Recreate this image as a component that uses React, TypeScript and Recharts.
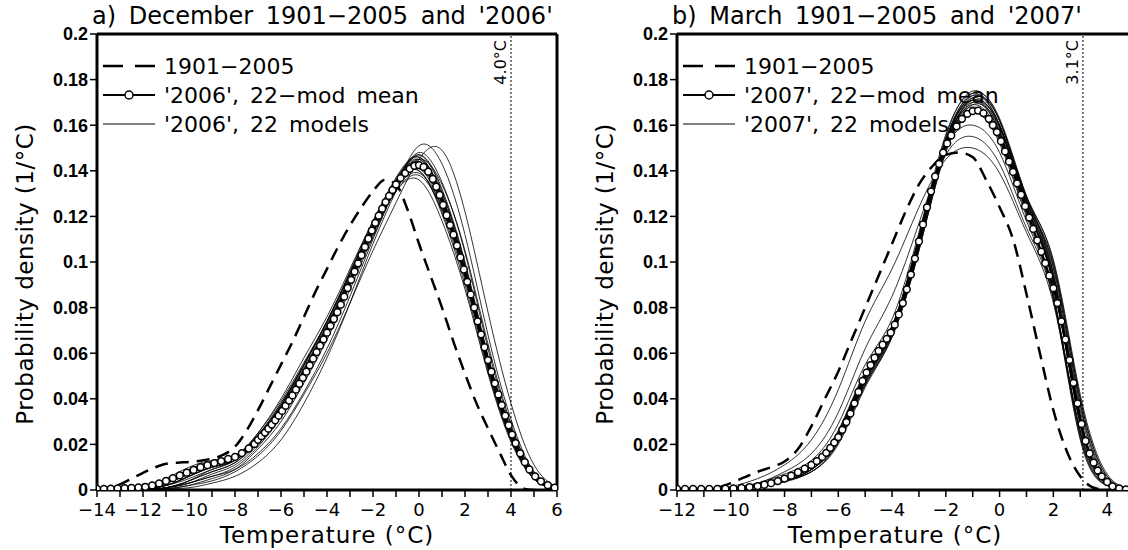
import React from "react";
import { LineChart, Line, XAxis, YAxis, ReferenceLine } from "recharts";

// all densities are in 1e-3 per °C

// a) December
const decGrid = [-14, -13, -12, -11, -10, -9, -8, -7, -6, -5, -4, -3, -2, -1, 0, 1, 2, 3, 4, 5, 6];
const decModels = [
  [0, 0, 0.5, 3, 8, 12, 15, 24, 38, 55, 73, 95, 117, 136, 145, 128, 96, 56, 24, 6, 0.5],
  [0, 0, 1, 5, 10, 13, 15, 23, 35, 51, 69, 90, 112, 132, 141, 126, 97, 58, 27, 8, 1],
  [0, 0, 0, 1, 4, 8, 12, 22, 37, 55, 74, 96, 118, 137, 146, 129, 96, 55, 23, 5, 0.5],
  [0, 0, 0.5, 2, 6, 10, 14, 25, 40, 58, 76, 97, 118, 135, 140, 122, 92, 53, 22, 5, 0.5],
  [0, 0, 0, 1, 3, 6, 10, 19, 32, 49, 68, 90, 113, 134, 148, 135, 104, 62, 28, 7, 0.5],
  [0, 0, 0, 0.5, 2, 5, 9, 18, 30, 47, 66, 88, 111, 133, 151, 143, 112, 68, 31, 8, 1],
  [0, 0, 0, 0.5, 2, 4, 8, 15, 26, 42, 60, 82, 105, 126, 145, 149, 122, 78, 38, 11, 1],
  [0, 0, 1, 4, 9, 12, 14, 22, 35, 52, 70, 91, 113, 131, 138, 123, 94, 55, 24, 6, 0.5],
  [0, 0, 0.5, 3, 7, 11, 14, 23, 36, 53, 72, 93, 115, 135, 143, 126, 94, 54, 23, 5, 0.5],
  [0, 0, 0.5, 2, 6, 10, 13, 21, 33, 50, 69, 91, 114, 134, 144, 128, 97, 57, 25, 6, 0.5],
  [0, 0, 1, 4, 9, 12.5, 15, 25, 39, 56, 74, 95, 116, 134, 141, 124, 93, 54, 23, 5, 0.5],
  [0, 0, 0, 1, 3, 6, 9, 16, 27, 43, 62, 85, 110, 133, 147, 132, 100, 59, 26, 6, 0.5],
  [0, 0, 0.5, 2, 5, 9, 13, 23, 37, 55, 74, 95, 116, 134, 140, 121, 90, 52, 22, 5, 0.5],
  [0, 0, 1, 3, 7, 11, 14, 24, 37, 54, 72, 93, 114, 132, 139, 124, 95, 56, 25, 6, 0.5],
  [0, 0, 0, 1, 4, 8, 12, 21, 34, 52, 71, 92, 114, 134, 145, 130, 99, 58, 26, 6, 0.5],
  [0, 0, 0.5, 2, 6, 10, 13, 22, 35, 52, 71, 93, 116, 136, 146, 129, 96, 55, 23, 5, 0.5],
  [0, 0, 0, 1, 3, 7, 11, 20, 33, 50, 69, 91, 114, 135, 147, 131, 99, 57, 24, 5, 0.5],
  [0, 0, 0.5, 3, 8, 12, 15, 24, 37, 53, 71, 92, 113, 131, 136, 118, 88, 51, 21, 5, 0.5],
  [0, 0, 0, 0.5, 1, 3, 6, 12, 22, 38, 58, 82, 108, 131, 145, 134, 105, 64, 29, 7, 0.5],
  [0, 0, 0.5, 2, 6, 10, 14, 24, 38, 55, 74, 95, 117, 136, 144, 127, 95, 55, 23, 5, 0.5],
  [0, 0, 1, 3, 7, 11, 14, 23, 36, 53, 72, 94, 116, 135, 143, 125, 94, 55, 24, 6, 0.5],
  [0, 0, 0, 1, 4, 9, 13, 22, 35, 52, 70, 91, 113, 132, 142, 128, 98, 58, 26, 6, 0.5],
];
const decObs: [number, number][] = [
  [-14, 0], [-13.5, 1], [-13, 2.5], [-12.5, 5], [-12, 7.5], [-11.5, 9.8], [-11, 11.5], [-10.5, 12],
  [-10, 12.3], [-9.5, 12.8], [-9, 13.8], [-8.5, 15.5], [-8, 19], [-7.5, 26], [-7, 35], [-6.5, 45],
  [-6, 55], [-5.5, 65], [-5, 76], [-4.5, 87], [-4, 97], [-3.5, 107], [-3, 116], [-2.5, 124],
  [-2, 131], [-1.5, 136], [-1, 134], [-0.5, 123], [0, 108], [0.5, 94], [1, 80], [1.5, 65],
  [2, 51], [2.5, 38], [3, 27], [3.5, 16.5], [4, 6.5], [4.3, 2.5], [4.6, 0.5], [5, 0], [6, 0],
];
const decMean: [number, number][] = [
  [-14, 0.5], [-13.7, 0.5], [-13.4, 0.6], [-13.1, 0.7], [-12.8, 0.8], [-12.5, 0.9], [-12.2, 1.1],
  [-11.9, 1.4], [-11.6, 2], [-11.3, 2.9], [-11, 4], [-10.7, 5.2], [-10.4, 6.4], [-10.1, 7.6],
  [-9.8, 8.8], [-9.5, 10], [-9.2, 10.9], [-8.9, 11.8], [-8.6, 12.7], [-8.3, 13.6], [-8, 14.5],
  [-7.7, 16.2], [-7.4, 18.2], [-7.15, 20.2], [-7, 22], [-6.85, 23.6], [-6.7, 25.2], [-6.55, 26.9],
  [-6.4, 28.7], [-6.25, 30.6], [-6.1, 32.6], [-5.95, 34.7], [-5.8, 36.9], [-5.65, 39.2], [-5.5, 41.5],
  [-5.35, 44], [-5.2, 46.6], [-5.05, 49.2], [-4.9, 51.9], [-4.75, 54.7], [-4.6, 57.6], [-4.45, 60.5],
  [-4.3, 63.3], [-4.15, 66.1], [-4, 69], [-3.85, 72], [-3.7, 75], [-3.55, 78], [-3.4, 81.3],
  [-3.25, 84.8], [-3.1, 88.6], [-2.95, 92.2], [-2.8, 95.8], [-2.65, 99.4], [-2.5, 103], [-2.35, 106.6],
  [-2.2, 110.2], [-2.05, 113.8], [-1.9, 117.2], [-1.75, 120.3], [-1.6, 123.4], [-1.45, 126.3],
  [-1.3, 129], [-1.15, 131.6], [-1, 134], [-0.8, 136.8], [-0.6, 139], [-0.4, 140.9], [-0.2, 142.2],
  [0, 142.5], [0.2, 141.7], [0.4, 139.6], [0.6, 136.4], [0.75, 133], [0.9, 129.4], [1.05, 125],
  [1.2, 120.5], [1.35, 116.2], [1.5, 112], [1.65, 107.2], [1.8, 102], [1.95, 96.7], [2.1, 91.3],
  [2.25, 85.8], [2.4, 80], [2.55, 74], [2.7, 68.3], [2.85, 62.6], [3, 57], [3.15, 51.9], [3.3, 46.8],
  [3.45, 41.9], [3.6, 37.2], [3.75, 32.6], [3.9, 28.4], [4.05, 24.3], [4.2, 20.5], [4.4, 16.1],
  [4.6, 12.2], [4.8, 9], [5.05, 6], [5.3, 3.8], [5.6, 2.1], [5.9, 1],
];

// b) March
const marGrid = [-12, -11, -10, -9, -8, -7, -6, -5, -4, -3, -2, -1, 0, 1, 2, 3, 4, 5];
const marModels = [
  [0, 0, 0.5, 1.5, 4, 9, 22, 48, 70, 108, 152, 170, 157, 124, 91, 28, 2.5, 0.2],
  [0, 0, 0.5, 2, 5, 10, 24, 50, 71, 110, 154, 173, 160, 126, 95, 35, 3, 0.2],
  [0, 0, 0.5, 1.5, 4, 8, 21, 46, 68, 106, 150, 172, 162, 129, 100, 40, 6, 0.4],
  [0, 0, 1, 2.5, 6, 11, 26, 52, 72, 111, 153, 168, 155, 122, 86, 25, 2.5, 0.2],
  [0, 0, 0.5, 1.5, 4, 9, 23, 49, 70, 109, 155, 175, 162, 127, 92, 30, 3, 0.2],
  [0, 0, 0.5, 2, 5, 10, 25, 51, 71, 110, 152, 166, 152, 120, 84, 22, 2, 0.2],
  [0, 0, 0.5, 1.5, 4, 9, 22, 48, 69, 107, 151, 171, 160, 128, 98, 38, 5, 0.3],
  [0, 0, 1, 3, 7, 13, 29, 55, 75, 113, 150, 160, 148, 118, 84, 23, 2, 0.2],
  [0, 0, 0.5, 1.5, 3.5, 8, 20, 45, 67, 105, 149, 169, 159, 127, 97, 37, 4, 0.3],
  [0, 0, 0.5, 2, 5, 10, 24, 50, 71, 110, 153, 171, 158, 125, 92, 30, 3, 0.2],
  [0, 0, 0.5, 1.5, 4, 9, 23, 49, 70, 108, 151, 167, 155, 123, 90, 29, 3, 0.2],
  [0, 0, 0.5, 2, 5, 11, 26, 51, 72, 112, 156, 174, 160, 125, 91, 30, 3, 0.2],
  [0, 0, 0.5, 1.5, 4, 9, 22, 47, 68, 106, 150, 170, 160, 128, 101, 42, 7, 0.6],
  [0, 0, 1, 3, 8, 16, 34, 62, 85, 117, 147, 155, 143, 115, 84, 26, 2.5, 0.2],
  [0, 0, 1.5, 5, 11, 22, 44, 74, 97, 124, 145, 150, 139, 113, 82, 26, 2.5, 0.2],
  [0, 0, 0.5, 2, 5, 10, 24, 50, 71, 110, 153, 172, 159, 126, 93, 31, 3, 0.2],
  [0, 0, 0.5, 1.5, 4, 9, 22, 47, 69, 107, 152, 173, 162, 128, 94, 31, 3, 0.2],
  [0, 0, 0.5, 2, 5, 10, 25, 51, 72, 111, 154, 171, 157, 124, 91, 30, 3, 0.2],
  [0, 0, 0.5, 1.5, 4, 8, 21, 46, 67, 105, 148, 165, 156, 126, 99, 40, 6, 0.5],
  [0, 0, 0.5, 2, 5, 10, 24, 50, 70, 109, 152, 169, 156, 124, 91, 30, 3, 0.2],
  [0, 0, 0.5, 1.5, 4, 9, 23, 48, 69, 108, 153, 174, 163, 129, 95, 32, 3, 0.2],
  [0, 0, 0.5, 2, 5, 10, 24, 49, 70, 109, 151, 166, 153, 121, 86, 24, 2, 0.2],
];
const marObs: [number, number][] = [
  [-12, 0], [-11, 0], [-10.5, 1], [-10, 3], [-9.5, 5.5], [-9, 8], [-8.5, 10], [-8, 12.5],
  [-7.5, 18], [-7, 28], [-6.5, 40], [-6, 52], [-5.5, 66], [-5, 80], [-4.5, 94], [-4, 108],
  [-3.5, 122], [-3, 134], [-2.5, 142], [-2, 147], [-1.5, 148], [-1, 146], [-0.5, 136], [0, 124],
  [0.5, 110], [1, 86], [1.5, 60], [2, 35], [2.5, 17], [3, 6], [3.5, 1], [4, 0], [5, 0],
];
const marMean: [number, number][] = [
  [-12, 0.5], [-11.7, 0.5], [-11.4, 0.5], [-11.1, 0.5], [-10.8, 0.5], [-10.5, 0.5], [-10.2, 0.6],
  [-9.9, 0.7], [-9.6, 0.9], [-9.3, 1.3], [-9, 1.7], [-8.75, 2.3], [-8.5, 3], [-8.25, 3.9], [-8, 5],
  [-7.75, 6.3], [-7.5, 7.8], [-7.25, 9.4], [-7, 11], [-6.8, 12.7], [-6.6, 14.5], [-6.45, 16.3],
  [-6.3, 18.5], [-6.15, 20.8], [-6, 23.2], [-5.85, 26.4], [-5.7, 29.8], [-5.55, 33.5], [-5.4, 38],
  [-5.25, 43], [-5.1, 47.8], [-4.95, 51.5], [-4.8, 54.8], [-4.65, 58], [-4.5, 61], [-4.35, 63.7],
  [-4.2, 66.3], [-4.05, 69], [-3.9, 72.5], [-3.75, 77], [-3.6, 82], [-3.45, 88], [-3.3, 94.5],
  [-3.15, 101.5], [-3, 109], [-2.85, 116.5], [-2.7, 124], [-2.55, 131], [-2.4, 137.5], [-2.25, 143],
  [-2.1, 148], [-1.95, 152], [-1.8, 155.5], [-1.6, 159.5], [-1.4, 162.8], [-1.2, 165], [-1, 166.2],
  [-0.8, 166.4], [-0.6, 165.3], [-0.4, 162.8], [-0.25, 160], [-0.1, 157], [0.05, 153], [0.2, 148.5],
  [0.35, 144], [0.5, 139.5], [0.65, 134.5], [0.8, 129.5], [0.95, 124.5], [1.1, 119.5], [1.25, 114.5],
  [1.4, 109.5], [1.55, 104.5], [1.7, 99.5], [1.85, 94], [2, 88.5], [2.15, 82], [2.3, 74], [2.45, 66],
  [2.6, 57], [2.75, 47], [2.9, 38], [3.05, 29], [3.2, 21.5], [3.35, 16], [3.5, 12], [3.65, 8.5],
  [3.8, 6], [4, 3.5], [4.2, 1.6], [4.45, 0.7], [4.7, 0.3], [4.95, 0.1],
];

const yTicks = [0, 0.02, 0.04, 0.06, 0.08, 0.1, 0.12, 0.14, 0.16, 0.18, 0.2];
const FONT = "'DejaVu Sans', sans-serif";

const toPts = (pairs: [number, number][]) => pairs.map(([x, v]) => ({ x, y: v / 1000 }));
const gridPts = (grid: number[], vals: number[]) => grid.map((x, i) => ({ x, y: vals[i] / 1000 }));
const fmtX = (v: number) => (v % 2 !== 0 ? "" : v < 0 ? "\u2212" + Math.abs(v) : String(v));
const fmtY = (v: number) => (v === 0 ? "0" : String(+v.toFixed(2)));

interface PanelProps {
  left: number;
  width: number;
  plotRight: number;
  title: string;
  year: string;
  grid: number[];
  models: number[][];
  obs: [number, number][];
  mean: [number, number][];
  domain: [number, number];
  limit: number;
  limitLabel: string;
  frameRight: boolean;
  xLabelCenter: number;
}

function Panel(p: PanelProps) {
  const ticks: number[] = [];
  for (let t = p.domain[0]; t <= p.domain[1]; t++) ticks.push(t);

  const limitText = ({ viewBox }: any) => (
    <text
      x={viewBox.x - 5}
      y={viewBox.y + 6}
      transform={`rotate(-90 ${viewBox.x - 5} ${viewBox.y + 6})`}
      textAnchor="end"
      fontSize={16}
      fill="#000"
    >
      {p.limitLabel}
    </text>
  );

  return (
    <div style={{ position: "absolute", left: p.left, top: 0, width: p.width, height: 550 }}>
      <LineChart
        width={p.width}
        height={550}
        margin={{ top: 34, right: p.width - p.plotRight, left: 37, bottom: 30 }}
      >
        <XAxis
          type="number"
          dataKey="x"
          domain={p.domain}
          ticks={ticks}
          tickFormatter={fmtX}
          allowDataOverflow
          height={30}
          interval={0}
          tickSize={7}
          tickMargin={6}
          axisLine={{ stroke: "#000", strokeWidth: 3 }}
          tickLine={{ stroke: "#000", strokeWidth: 1.5 }}
          tick={{ fill: "#000", fontSize: 18 }}
        />
        <YAxis
          type="number"
          domain={[0, 0.2]}
          ticks={yTicks}
          tickFormatter={fmtY}
          allowDataOverflow
          width={60}
          interval={0}
          tickSize={7}
          tickMargin={2}
          axisLine={{ stroke: "#000", strokeWidth: 3 }}
          tickLine={{ stroke: "#000", strokeWidth: 1.5 }}
          tick={{ fill: "#000", fontSize: 18, fontWeight: "bold", fontFamily: "'Liberation Sans', sans-serif" }}
        />
        <ReferenceLine y={0.2} stroke="#000" strokeWidth={3} />
        {p.frameRight && <ReferenceLine x={p.domain[1]} stroke="#000" strokeWidth={3} />}
        <ReferenceLine x={p.limit} stroke="#000" strokeWidth={1} strokeDasharray="2 2" label={limitText} />
        {p.models.map((m, i) => (
          <Line
            key={i}
            data={gridPts(p.grid, m)}
            dataKey="y"
            type="natural"
            stroke="#000"
            strokeWidth={0.8}
            dot={false}
            isAnimationActive={false}
          />
        ))}
        <Line
          data={toPts(p.obs)}
          dataKey="y"
          type="monotone"
          stroke="#000"
          strokeWidth={2.5}
          strokeDasharray="13 8"
          dot={false}
          isAnimationActive={false}
        />
        <Line
          data={toPts(p.mean)}
          dataKey="y"
          type="linear"
          stroke="#000"
          strokeWidth={2}
          dot={{ r: 3.4, fill: "#fff", stroke: "#000", strokeWidth: 1.5 }}
          isAnimationActive={false}
        />
      </LineChart>

      <div style={{ position: "absolute", left: 92, top: 2, fontSize: 24, wordSpacing: 5, whiteSpace: "nowrap" }}>
        {p.title}
      </div>
      <div
        style={{
          position: "absolute",
          left: 25,
          top: 274,
          fontSize: 23,
          letterSpacing: 0.5,
          whiteSpace: "nowrap",
          transform: "translate(-50%, -50%) rotate(-90deg)",
        }}
      >
        Probability density (1/°C)
      </div>
      <div
        style={{
          position: "absolute",
          left: p.xLabelCenter,
          top: 524,
          fontSize: 23,
          lineHeight: "23px",
          letterSpacing: 1,
          whiteSpace: "nowrap",
          transform: "translateX(-50%)",
        }}
      >
        Temperature (°C)
      </div>

      <svg style={{ position: "absolute", left: 100, top: 50 }} width={60} height={90}>
        <line x1={3} y1={16} x2={55} y2={16} stroke="#000" strokeWidth={2.5} strokeDasharray="20 12" />
        <line x1={3} y1={45} x2={55} y2={45} stroke="#000" strokeWidth={2} />
        <circle cx={29} cy={45} r={4} fill="#fff" stroke="#000" strokeWidth={1.5} />
        <line x1={3} y1={74} x2={55} y2={74} stroke="#000" strokeWidth={1} />
      </svg>
      <div
        style={{
          position: "absolute",
          left: 164,
          top: 52,
          fontSize: 22,
          lineHeight: "29px",
          whiteSpace: "nowrap",
          wordSpacing: 4,
        }}
      >
        <div>1901{"\u2212"}2005</div>
        <div>'{p.year}', 22{"\u2212"}mod mean</div>
        <div>'{p.year}', 22 models</div>
      </div>
    </div>
  );
}

export default function App() {
  return (
    <div
      style={{
        position: "fixed",
        left: 0,
        top: 0,
        width: 1128,
        height: 550,
        overflow: "hidden",
        background: "#fff",
        fontFamily: FONT,
        color: "#000",
      }}
    >
      <Panel
        left={0}
        width={564}
        plotRight={557}
        title={"a) December 1901\u22122005 and '2006'"}
        year="2006"
        grid={decGrid}
        models={decModels}
        obs={decObs}
        mean={decMean}
        domain={[-14, 6]}
        limit={4}
        limitLabel="4.0°C"
        frameRight
        xLabelCenter={327}
      />
      <Panel
        left={580}
        width={560}
        plotRight={554}
        title={"b) March 1901\u22122005 and '2007'"}
        year="2007"
        grid={marGrid}
        models={marModels}
        obs={marObs}
        mean={marMean}
        domain={[-12, 5]}
        limit={3.1}
        limitLabel="3.1°C"
        frameRight={false}
        xLabelCenter={315}
      />
    </div>
  );
}
